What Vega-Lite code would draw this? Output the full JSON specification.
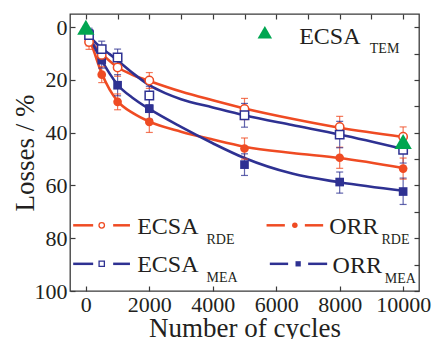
{
  "$schema": "https://vega.github.io/schema/vega-lite/v6.json",
  "width": 349,
  "height": 277,
  "autosize": {"type": "none"},
  "padding": {"left": 70, "top": 14, "right": 13, "bottom": 48},
  "background": "white",
  "config": {
    "view": {"stroke": "#3a3a3a", "strokeWidth": 1.3},
    "axis": {
      "grid": false,
      "domain": false,
      "tickSize": -5,
      "tickColor": "#3a3a3a",
      "tickWidth": 1.2,
      "labelFont": "Liberation Serif",
      "labelFontSize": 22,
      "labelColor": "#231f20",
      "labelOverlap": false,
      "labelFlush": false,
      "titleFont": "Liberation Serif",
      "titleFontSize": 27,
      "titleFontWeight": "normal",
      "titleColor": "#231f20"
    }
  },
  "datasets": {
    "fit": [
      {"series": "ECSA_RDE", "cycles": 0, "loss": 0},
      {"series": "ECSA_RDE", "cycles": 100, "loss": 4},
      {"series": "ECSA_RDE", "cycles": 250, "loss": 6.8},
      {"series": "ECSA_RDE", "cycles": 500, "loss": 10},
      {"series": "ECSA_RDE", "cycles": 750, "loss": 12.8},
      {"series": "ECSA_RDE", "cycles": 1000, "loss": 15.2},
      {"series": "ECSA_RDE", "cycles": 1500, "loss": 18.2},
      {"series": "ECSA_RDE", "cycles": 2000, "loss": 20.4},
      {"series": "ECSA_RDE", "cycles": 3000, "loss": 24.4},
      {"series": "ECSA_RDE", "cycles": 4000, "loss": 27.7},
      {"series": "ECSA_RDE", "cycles": 5000, "loss": 30.8},
      {"series": "ECSA_RDE", "cycles": 6500, "loss": 34.7},
      {"series": "ECSA_RDE", "cycles": 8000, "loss": 38.1},
      {"series": "ECSA_RDE", "cycles": 10000, "loss": 41.6},
      {"series": "ECSA_MEA", "cycles": 0, "loss": 0},
      {"series": "ECSA_MEA", "cycles": 100, "loss": 2.8},
      {"series": "ECSA_MEA", "cycles": 250, "loss": 5.2},
      {"series": "ECSA_MEA", "cycles": 500, "loss": 8},
      {"series": "ECSA_MEA", "cycles": 750, "loss": 10.2},
      {"series": "ECSA_MEA", "cycles": 1000, "loss": 12.6},
      {"series": "ECSA_MEA", "cycles": 1500, "loss": 17.6},
      {"series": "ECSA_MEA", "cycles": 2000, "loss": 22},
      {"series": "ECSA_MEA", "cycles": 2500, "loss": 25},
      {"series": "ECSA_MEA", "cycles": 3000, "loss": 27.3},
      {"series": "ECSA_MEA", "cycles": 4000, "loss": 30.4},
      {"series": "ECSA_MEA", "cycles": 5000, "loss": 33.4},
      {"series": "ECSA_MEA", "cycles": 6500, "loss": 37.1},
      {"series": "ECSA_MEA", "cycles": 8000, "loss": 40.7},
      {"series": "ECSA_MEA", "cycles": 10000, "loss": 46.2},
      {"series": "ORR_RDE", "cycles": 0, "loss": 0},
      {"series": "ORR_RDE", "cycles": 100, "loss": 4},
      {"series": "ORR_RDE", "cycles": 250, "loss": 9},
      {"series": "ORR_RDE", "cycles": 500, "loss": 17.5},
      {"series": "ORR_RDE", "cycles": 750, "loss": 23.7},
      {"series": "ORR_RDE", "cycles": 1000, "loss": 28},
      {"series": "ORR_RDE", "cycles": 1500, "loss": 32.7},
      {"series": "ORR_RDE", "cycles": 2000, "loss": 35.8},
      {"series": "ORR_RDE", "cycles": 3000, "loss": 39.6},
      {"series": "ORR_RDE", "cycles": 4000, "loss": 42.6},
      {"series": "ORR_RDE", "cycles": 5000, "loss": 45.3},
      {"series": "ORR_RDE", "cycles": 6500, "loss": 47.7},
      {"series": "ORR_RDE", "cycles": 8000, "loss": 49.6},
      {"series": "ORR_RDE", "cycles": 10000, "loss": 53.4},
      {"series": "ORR_MEA", "cycles": 0, "loss": 0},
      {"series": "ORR_MEA", "cycles": 100, "loss": 3},
      {"series": "ORR_MEA", "cycles": 250, "loss": 7},
      {"series": "ORR_MEA", "cycles": 500, "loss": 12.6},
      {"series": "ORR_MEA", "cycles": 750, "loss": 17.6},
      {"series": "ORR_MEA", "cycles": 1000, "loss": 21.8},
      {"series": "ORR_MEA", "cycles": 1500, "loss": 27},
      {"series": "ORR_MEA", "cycles": 2000, "loss": 31},
      {"series": "ORR_MEA", "cycles": 3000, "loss": 37.8},
      {"series": "ORR_MEA", "cycles": 4000, "loss": 44},
      {"series": "ORR_MEA", "cycles": 5000, "loss": 49.6},
      {"series": "ORR_MEA", "cycles": 6500, "loss": 55.5},
      {"series": "ORR_MEA", "cycles": 8000, "loss": 58.8},
      {"series": "ORR_MEA", "cycles": 10000, "loss": 62}
    ],
    "measured": [
      {"series": "ECSA_RDE", "cycles": 100, "loss": 5.6, "lo": 2.8, "hi": 8.4},
      {"series": "ECSA_RDE", "cycles": 500, "loss": 10.5, "lo": 7.5, "hi": 13.5},
      {"series": "ECSA_RDE", "cycles": 1000, "loss": 15.3, "lo": 12, "hi": 18.6},
      {"series": "ECSA_RDE", "cycles": 2000, "loss": 20.2, "lo": 17.2, "hi": 23.2},
      {"series": "ECSA_RDE", "cycles": 5000, "loss": 31, "lo": 27, "hi": 35},
      {"series": "ECSA_RDE", "cycles": 8000, "loss": 37.8, "lo": 33.8, "hi": 41.8},
      {"series": "ECSA_RDE", "cycles": 10000, "loss": 41.5, "lo": 37.8, "hi": 45.2},
      {"series": "ECSA_MEA", "cycles": 100, "loss": 3, "lo": 1, "hi": 5},
      {"series": "ECSA_MEA", "cycles": 500, "loss": 8.3, "lo": 5.3, "hi": 11.3},
      {"series": "ECSA_MEA", "cycles": 1000, "loss": 11.5, "lo": 8.3, "hi": 14.7},
      {"series": "ECSA_MEA", "cycles": 2000, "loss": 25.9, "lo": 22.4, "hi": 29.4},
      {"series": "ECSA_MEA", "cycles": 5000, "loss": 33.4, "lo": 28.9, "hi": 37.9},
      {"series": "ECSA_MEA", "cycles": 8000, "loss": 40.7, "lo": 35.7, "hi": 45.7},
      {"series": "ECSA_MEA", "cycles": 10000, "loss": 46.5, "lo": 41.5, "hi": 51.5},
      {"series": "ORR_RDE", "cycles": 100, "loss": 4.3, "lo": 1.5, "hi": 7.1},
      {"series": "ORR_RDE", "cycles": 500, "loss": 18, "lo": 15, "hi": 21},
      {"series": "ORR_RDE", "cycles": 1000, "loss": 28.3, "lo": 25.3, "hi": 31.3},
      {"series": "ORR_RDE", "cycles": 2000, "loss": 35.9, "lo": 31.9, "hi": 39.9},
      {"series": "ORR_RDE", "cycles": 5000, "loss": 46, "lo": 42, "hi": 50},
      {"series": "ORR_RDE", "cycles": 8000, "loss": 49.5, "lo": 45.5, "hi": 53.5},
      {"series": "ORR_RDE", "cycles": 10000, "loss": 53.6, "lo": 49.6, "hi": 57.6},
      {"series": "ORR_MEA", "cycles": 100, "loss": 2.4, "lo": 0.4, "hi": 4.4},
      {"series": "ORR_MEA", "cycles": 500, "loss": 12.5, "lo": 9.5, "hi": 15.5},
      {"series": "ORR_MEA", "cycles": 1000, "loss": 22, "lo": 18, "hi": 26},
      {"series": "ORR_MEA", "cycles": 2000, "loss": 30.9, "lo": 26.9, "hi": 34.9},
      {"series": "ORR_MEA", "cycles": 5000, "loss": 52.1, "lo": 48, "hi": 56.2},
      {"series": "ORR_MEA", "cycles": 8000, "loss": 58.7, "lo": 54.9, "hi": 62.9},
      {"series": "ORR_MEA", "cycles": 10000, "loss": 62.3, "lo": 57.2, "hi": 67.2}
    ],
    "tem": [
      {"cycles": 0, "loss": 0},
      {"cycles": 10000, "loss": 43.3}
    ]
  },
  "layer": [
    {
      "layer": [
        {
          "data": {"name": "fit"},
          "mark": {"type": "line", "interpolate": "monotone", "strokeWidth": 2.6},
          "encoding": {
            "x": {
              "field": "cycles", "type": "quantitative",
              "scale": {"domain": [-500, 10500], "nice": false, "zero": false},
              "axis": {
                "orient": "bottom",
                "values": [0, 1000, 2000, 3000, 4000, 5000, 6000, 7000, 8000, 9000, 10000],
                "labelExpr": "datum.value % 2000 === 0 ? format(datum.value, 'd') : ''",
                "labelPadding": 8,
                "title": "Number of cycles",
                "titlePadding": 0
              }
            },
            "y": {
              "field": "loss", "type": "quantitative",
              "scale": {"domain": [-5, 100], "nice": false, "zero": false, "reverse": true},
              "axis": {
                "orient": "left",
                "values": [0, 10, 20, 30, 40, 50, 60, 70, 80, 90, 100],
                "labelExpr": "datum.value % 20 === 0 ? format(datum.value, 'd') : ''",
                "labelPadding": 8,
                "title": "Losses / %",
                "titlePadding": -5
              }
            },
            "color": {
              "field": "series", "type": "nominal",
              "scale": {"domain": ["ECSA_RDE", "ORR_RDE", "ECSA_MEA", "ORR_MEA"], "range": ["#ef4b23", "#ef4b23", "#2e3192", "#2e3192"]},
              "legend": null
            },
            "detail": {"field": "series"}
          }
        },
        {
          "data": {"name": "measured"},
          "mark": {"type": "rule", "strokeWidth": 1.2, "opacity": 0.75},
          "encoding": {
            "x": {"field": "cycles", "type": "quantitative"},
            "y": {"field": "lo", "type": "quantitative"},
            "y2": {"field": "hi"},
            "color": {"field": "series", "type": "nominal", "legend": null}
          }
        },
        {
          "data": {"name": "measured"},
          "mark": {"type": "tick", "orient": "horizontal", "size": 7, "thickness": 1.2, "opacity": 0.75},
          "encoding": {
            "x": {"field": "cycles", "type": "quantitative"},
            "y": {"field": "lo", "type": "quantitative"},
            "color": {"field": "series", "type": "nominal", "legend": null}
          }
        },
        {
          "data": {"name": "measured"},
          "mark": {"type": "tick", "orient": "horizontal", "size": 7, "thickness": 1.2, "opacity": 0.75},
          "encoding": {
            "x": {"field": "cycles", "type": "quantitative"},
            "y": {"field": "hi", "type": "quantitative"},
            "color": {"field": "series", "type": "nominal", "legend": null}
          }
        },
        {
          "data": {"name": "measured"},
          "transform": [{"filter": "indexof(datum.series, 'ORR') === 0"}],
          "mark": {"type": "point", "filled": true, "size": 75, "opacity": 1},
          "encoding": {
            "x": {"field": "cycles", "type": "quantitative"},
            "y": {"field": "loss", "type": "quantitative"},
            "color": {"field": "series", "type": "nominal", "legend": null},
            "shape": {
              "field": "series", "type": "nominal",
              "scale": {"domain": ["ECSA_RDE", "ORR_RDE", "ECSA_MEA", "ORR_MEA"], "range": ["circle", "circle", "square", "square"]},
              "legend": null
            }
          }
        },
        {
          "data": {"name": "measured"},
          "transform": [{"filter": "indexof(datum.series, 'ECSA') === 0"}],
          "mark": {"type": "point", "filled": false, "fill": "white", "fillOpacity": 1, "strokeWidth": 1.5, "size": 70, "opacity": 1},
          "encoding": {
            "x": {"field": "cycles", "type": "quantitative"},
            "y": {"field": "loss", "type": "quantitative"},
            "color": {"field": "series", "type": "nominal", "legend": null},
            "shape": {"field": "series", "type": "nominal", "legend": null}
          }
        },
        {
          "data": {"values": [{}]},
          "layer": [
            {"mark": {"type": "point", "shape": "triangle-up", "filled": true, "color": "#00a651", "size": 210, "opacity": 1},
             "encoding": {"x": {"datum": 5641}, "y": {"datum": 1.9}}},
            {"mark": {"type": "text", "align": "left", "baseline": "alphabetic", "font": "Liberation Serif", "fontSize": 24, "color": "#231f20"},
             "encoding": {"x": {"datum": 6722}, "y": {"datum": 6.2}, "text": {"value": "ECSA"}}},
            {"mark": {"type": "text", "align": "left", "baseline": "alphabetic", "font": "Liberation Serif", "fontSize": 14, "color": "#231f20"},
             "encoding": {"x": {"datum": 8950}, "y": {"datum": 9.8}, "text": {"value": "TEM"}}}
          ]
        },
        {
          "data": {"values": [{}]},
          "layer": [
            {"mark": {"type": "rule", "color": "#ef4b23", "strokeWidth": 2.5},
             "encoding": {"x": {"datum": -400}, "x2": {"datum": 230}, "y": {"datum": 75.1}}},
            {"mark": {"type": "rule", "color": "#ef4b23", "strokeWidth": 2.5},
             "encoding": {"x": {"datum": 860}, "x2": {"datum": 1390}, "y": {"datum": 75.1}}},
            {"mark": {"type": "point", "shape": "circle", "filled": false, "fill": "white", "fillOpacity": 1, "color": "#ef4b23", "strokeWidth": 1.3, "size": 30, "opacity": 1},
             "encoding": {"x": {"datum": 500}, "y": {"datum": 75.1}}},
            {"mark": {"type": "text", "align": "left", "baseline": "alphabetic", "font": "Liberation Serif", "fontSize": 24, "color": "#231f20"},
             "encoding": {"x": {"datum": 1617}, "y": {"datum": 78.3}, "text": {"value": "ECSA"}}},
            {"mark": {"type": "text", "align": "left", "baseline": "alphabetic", "font": "Liberation Serif", "fontSize": 14, "color": "#231f20"},
             "encoding": {"x": {"datum": 3803}, "y": {"datum": 82}, "text": {"value": "RDE"}}}
          ]
        },
        {
          "data": {"values": [{}]},
          "layer": [
            {"mark": {"type": "rule", "color": "#2e3192", "strokeWidth": 2.5},
             "encoding": {"x": {"datum": -400}, "x2": {"datum": 230}, "y": {"datum": 89.7}}},
            {"mark": {"type": "rule", "color": "#2e3192", "strokeWidth": 2.5},
             "encoding": {"x": {"datum": 860}, "x2": {"datum": 1390}, "y": {"datum": 89.7}}},
            {"mark": {"type": "point", "shape": "square", "filled": false, "fill": "white", "fillOpacity": 1, "color": "#2e3192", "strokeWidth": 1.3, "size": 28, "opacity": 1},
             "encoding": {"x": {"datum": 500}, "y": {"datum": 89.7}}},
            {"mark": {"type": "text", "align": "left", "baseline": "alphabetic", "font": "Liberation Serif", "fontSize": 24, "color": "#231f20"},
             "encoding": {"x": {"datum": 1617}, "y": {"datum": 92.8}, "text": {"value": "ECSA"}}},
            {"mark": {"type": "text", "align": "left", "baseline": "alphabetic", "font": "Liberation Serif", "fontSize": 14, "color": "#231f20"},
             "encoding": {"x": {"datum": 3803}, "y": {"datum": 96.5}, "text": {"value": "MEA"}}}
          ]
        },
        {
          "data": {"values": [{}]},
          "layer": [
            {"mark": {"type": "rule", "color": "#ef4b23", "strokeWidth": 2.5},
             "encoding": {"x": {"datum": 5695}, "x2": {"datum": 6272}, "y": {"datum": 75.1}}},
            {"mark": {"type": "rule", "color": "#ef4b23", "strokeWidth": 2.5},
             "encoding": {"x": {"datum": 6902}, "x2": {"datum": 7479}, "y": {"datum": 75.1}}},
            {"mark": {"type": "point", "shape": "circle", "filled": true, "color": "#ef4b23", "size": 30, "opacity": 1},
             "encoding": {"x": {"datum": 6587}, "y": {"datum": 75.1}}},
            {"mark": {"type": "text", "align": "left", "baseline": "alphabetic", "font": "Liberation Serif", "fontSize": 24, "color": "#231f20"},
             "encoding": {"x": {"datum": 7668}, "y": {"datum": 78.3}, "text": {"value": "ORR"}}},
            {"mark": {"type": "text", "align": "left", "baseline": "alphabetic", "font": "Liberation Serif", "fontSize": 14, "color": "#231f20"},
             "encoding": {"x": {"datum": 9319}, "y": {"datum": 82.1}, "text": {"value": "RDE"}}}
          ]
        },
        {
          "data": {"values": [{}]},
          "layer": [
            {"mark": {"type": "rule", "color": "#2e3192", "strokeWidth": 2.5},
             "encoding": {"x": {"datum": 5798}, "x2": {"datum": 6375}, "y": {"datum": 89.7}}},
            {"mark": {"type": "rule", "color": "#2e3192", "strokeWidth": 2.5},
             "encoding": {"x": {"datum": 7006}, "x2": {"datum": 7605}, "y": {"datum": 89.7}}},
            {"mark": {"type": "point", "shape": "square", "filled": true, "color": "#2e3192", "size": 28, "opacity": 1},
             "encoding": {"x": {"datum": 6691}, "y": {"datum": 89.7}}},
            {"mark": {"type": "text", "align": "left", "baseline": "alphabetic", "font": "Liberation Serif", "fontSize": 24, "color": "#231f20"},
             "encoding": {"x": {"datum": 7775}, "y": {"datum": 93.2}, "text": {"value": "ORR"}}},
            {"mark": {"type": "text", "align": "left", "baseline": "alphabetic", "font": "Liberation Serif", "fontSize": 14, "color": "#231f20"},
             "encoding": {"x": {"datum": 9423}, "y": {"datum": 96.8}, "text": {"value": "MEA"}}}
          ]
        }
      ]
    },
    {
      "data": {"name": "tem"},
      "mark": {"type": "point", "shape": "triangle-up", "filled": true, "color": "#00a651", "size": 300, "opacity": 1},
      "encoding": {
        "x": {
          "field": "cycles", "type": "quantitative",
          "axis": {
            "orient": "top",
            "values": [0, 1000, 2000, 3000, 4000, 5000, 6000, 7000, 8000, 9000, 10000],
            "labels": false,
            "title": null
          }
        },
        "y": {
          "field": "loss", "type": "quantitative",
          "axis": {
            "orient": "right",
            "values": [0, 10, 20, 30, 40, 50, 60, 70, 80, 90, 100],
            "labels": false,
            "title": null
          }
        }
      }
    }
  ],
  "resolve": {"axis": {"x": "independent", "y": "independent"}}
}
